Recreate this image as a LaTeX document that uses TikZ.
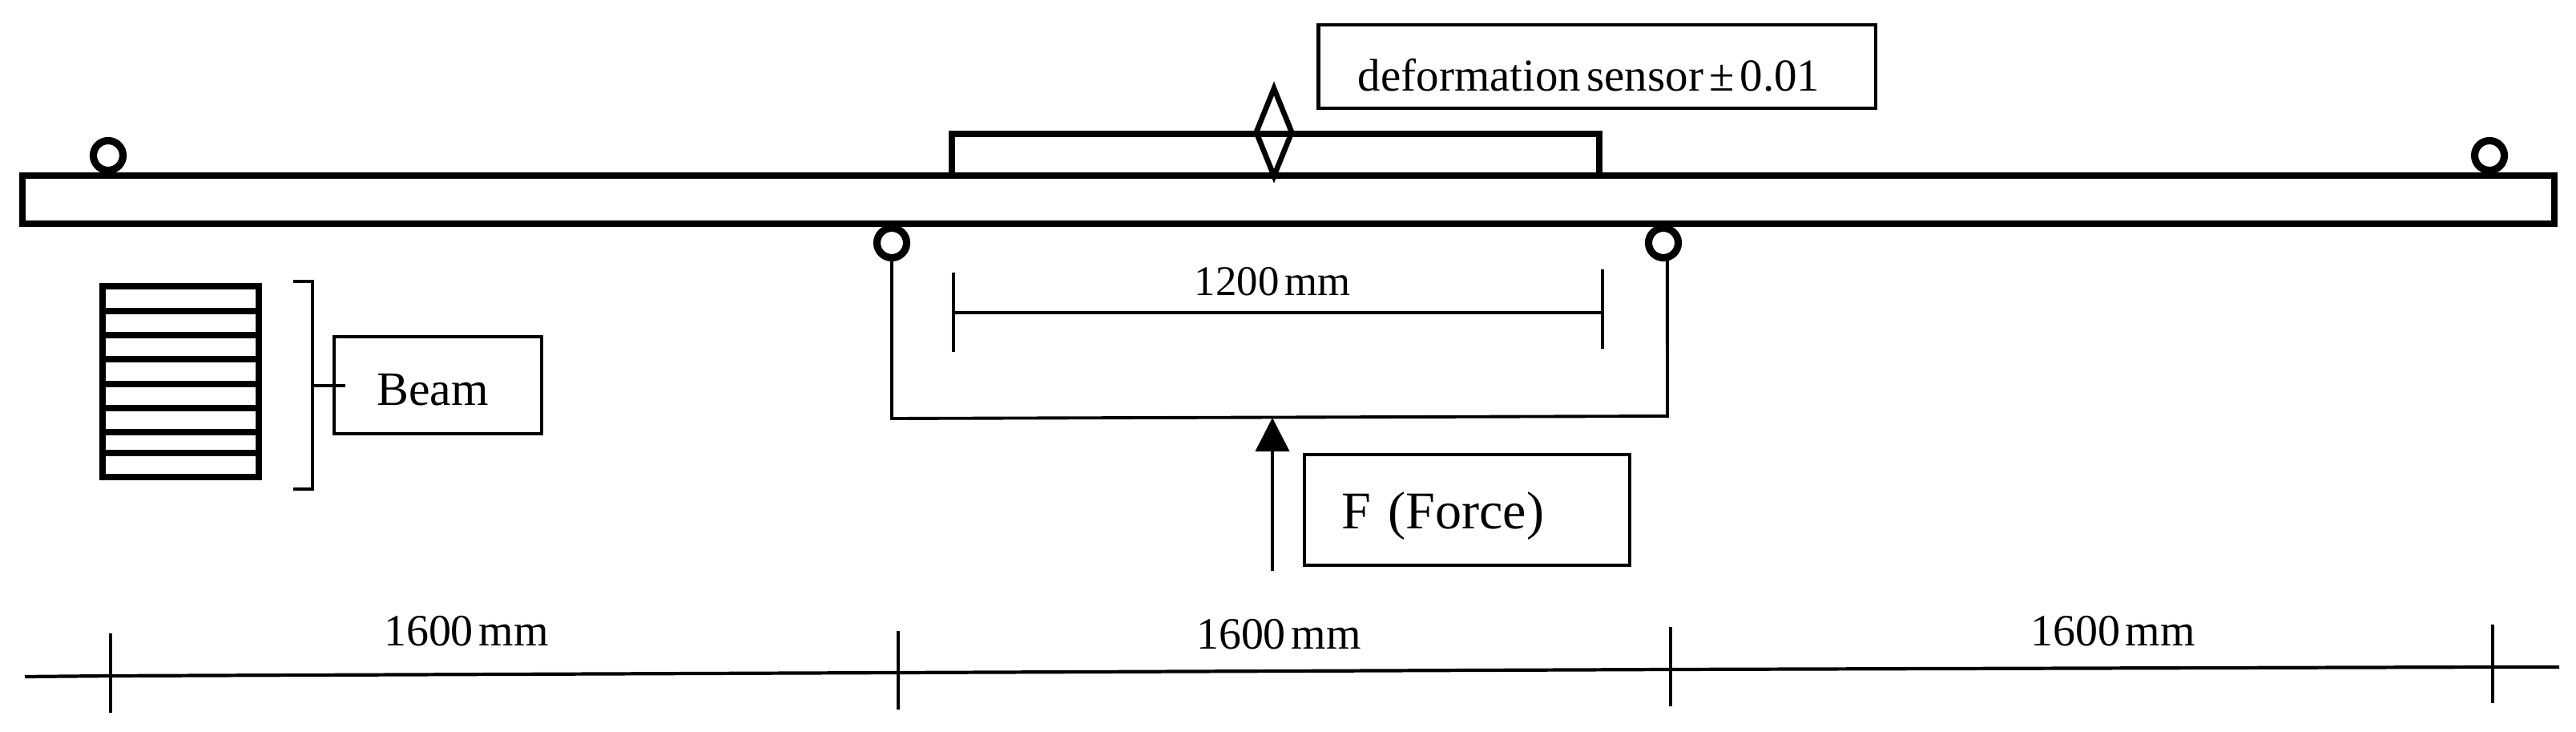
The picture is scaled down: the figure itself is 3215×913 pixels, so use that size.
\documentclass[tikz,border=0pt]{standalone}
\usepackage{fontspec}
\setmainfont[WordSpace=0.5]{Liberation Serif}
\usetikzlibrary{arrows.meta,shapes.geometric,positioning}

\begin{document}
\begin{tikzpicture}[x=0.01cm,y=-0.01cm,>={Stealth[length=0.42cm,width=0.42cm,inset=0pt]}]
    \tikzstyle{member}=[rectangle,draw=black,line width=2.3pt,inner sep=0pt,outer sep=0pt]
    \tikzstyle{lab}=[rectangle,draw=black,line width=1.25pt,inner sep=0pt,outer sep=0pt]
    \tikzstyle{roller}=[circle,draw=black,line width=2.6pt,fill=white,inner sep=0pt,outer sep=0pt,minimum size=0.37cm]
    \tikzstyle{txt}=[font=\fontsize{15.9}{18}\selectfont,inner sep=0pt]
    \tikzstyle{thinl}=[draw=black,line width=1.1pt]

    \useasboundingbox (0,0) rectangle (3215,913);

    % beam with plate on top
    \node[member,minimum width=31.58cm,minimum height=0.6cm](beam) at (1608,249){};
    \node[member,minimum width=8.08cm,minimum height=0.52cm](plate) at (1592,193){};
    \node[shape=diamond,draw=black,line width=1.9pt,inner sep=0pt,minimum width=0.47cm,minimum height=1.12cm](sensor) at (1590,165){};
    \node[lab,minimum width=6.95cm,minimum height=1.04cm](sensor_box) at (1993,83){};
    \node[txt,font=\fontsize{16.2}{18}\selectfont](sensor_txt) at (1983,94){deformation sensor ± 0.01};

    % rollers
    \node[roller](end_l) at (135,194){};
    \node[roller](end_r) at (3107,194){};
    \node[roller](sup_l) at (1113,303){};
    \node[roller](sup_r) at (2076,303){};

    % load frame
    \coordinate (frame_l) at (1113,522);
    \coordinate (frame_r) at (2081,519);
    \draw[thinl] (sup_l.south) -- (frame_l) -- (frame_r) -- (sup_r.-75);

    % force
    \coordinate (force_tip) at (1588,521);
    \coordinate (force_end) at (1588,712);
    \draw[thinl,->] (force_end) -- (force_tip);
    \node[lab,minimum width=4.06cm,minimum height=1.385cm](force_box) at (1831,636){};
    \node[txt,font=\fontsize{18.8}{20}\selectfont](force_txt) at (1801,644){F\hspace*{0.2em} (Force)};

    % 1200 mm
    \coordinate (dim_l) at (1190,390);
    \coordinate (dim_r) at (2000,390);
    \draw[thinl,line width=1.2pt] (dim_l) -- (dim_r);
    \draw[thinl] (1190,340) -- (dim_l) -- (1190,439);
    \draw[thinl] (2000,336) -- (dim_r) -- (2000,435);
    \node[txt,font=\fontsize{15}{18}\selectfont](dim_txt) at (1588,351){1200 mm};

    % cross section
    \node[member,minimum width=1.95cm,minimum height=2.375cm](section) at (225.5,476){};
    \foreach \y in {388,418,448,479,509,539,565}
      \draw[line width=2.3pt] (section.west |- 0,\y) -- (section.east |- 0,\y);
    \node[lab,minimum width=2.59cm,minimum height=1.21cm](beam_box) at (546.5,480.5){};
    \node[txt,font=\fontsize{17}{18}\selectfont](beam_txt) at (540,486){Beam};
    \coordinate (brace_t) at (366,351);
    \coordinate (brace_b) at (366,610);
    \coordinate (brace_m) at (431,481);
    \draw[thinl] (brace_t) -- (390,351) -- (390,610) -- (brace_b);
    \draw[thinl] (390,481) -- (brace_m);

    % bottom dimension line
    \coordinate (base_0) at (31,844);
    \coordinate (base_1) at (138,843);
    \coordinate (base_2) at (1121,839);
    \coordinate (base_3) at (2085,835);
    \coordinate (base_4) at (3111,832);
    \coordinate (base_5) at (3194,832);
    \draw[thinl,line width=1.2pt] (base_0) -- (base_1) -- (base_2) -- (base_3) -- (base_4) -- (base_5);
    \draw[thinl] (138,790) -- (base_1) -- (138,889);
    \draw[thinl] (1121,787) -- (base_2) -- (1121,885);
    \draw[thinl] (2085,782) -- (base_3) -- (2085,881);
    \draw[thinl] (3111,779) -- (base_4) -- (3111,877);
    \node[txt](len_l) at (582,787){1600 mm};
    \node[txt](len_m) at (1596,791){1600 mm};
    \node[txt](len_r) at (2637,787){1600 mm};
  \end{tikzpicture}
\end{document}
